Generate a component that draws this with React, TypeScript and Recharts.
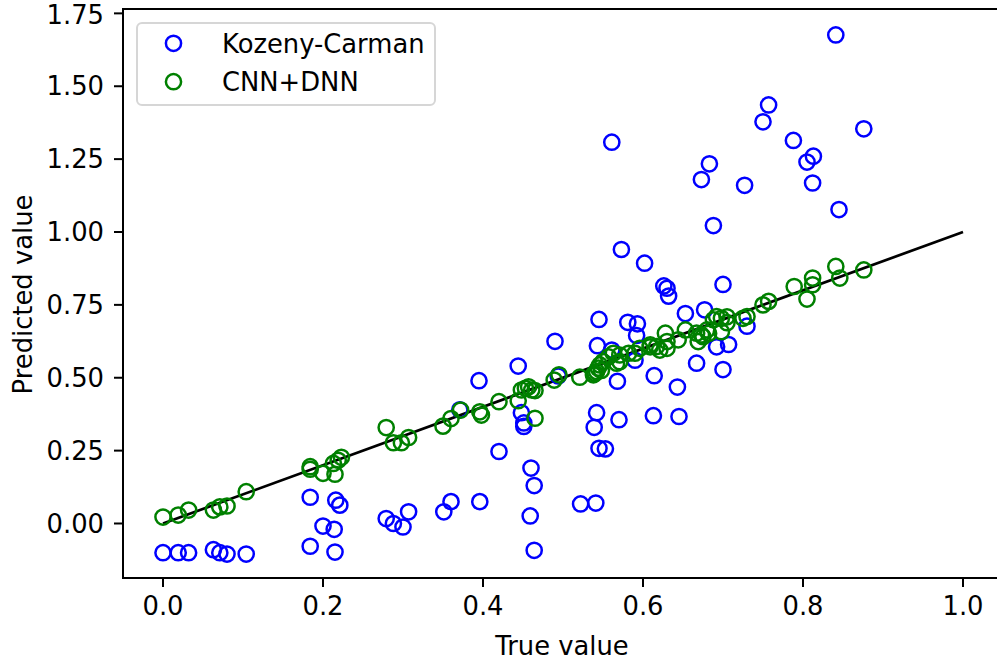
import { ScatterChart, Scatter, XAxis, YAxis, ReferenceLine, ReferenceArea, Legend } from 'recharts';

// Kozeny-Carman estimate vs. true value
const kcTrue = [
    0.000, 0.019, 0.032, 0.063, 0.071, 0.080, 0.104, 0.184, 0.184, 0.200,
    0.214, 0.215, 0.216, 0.221, 0.279, 0.288, 0.300, 0.307, 0.351, 0.360,
    0.371, 0.395, 0.396, 0.420, 0.444, 0.448, 0.451, 0.451, 0.459, 0.460,
    0.464, 0.464, 0.490, 0.494, 0.522, 0.539, 0.541, 0.542, 0.543, 0.545,
    0.545, 0.553, 0.561, 0.561, 0.568, 0.570, 0.573, 0.581, 0.590, 0.592,
    0.593, 0.602, 0.613, 0.614, 0.626, 0.630, 0.632, 0.643, 0.645, 0.653,
    0.667, 0.673, 0.677, 0.683, 0.688, 0.692, 0.700, 0.700, 0.707, 0.727,
    0.730, 0.750, 0.757, 0.788, 0.805, 0.812, 0.813, 0.841, 0.845, 0.876,
];
const kcPred = [
    -0.100, -0.100, -0.100, -0.090, -0.100, -0.105, -0.105, -0.078, 0.090, -0.009,
    -0.020, -0.098, 0.080, 0.063, 0.017, 0.000, -0.012, 0.040, 0.040, 0.075,
    0.390, 0.490, 0.075, 0.247, 0.540, 0.380, 0.345, 0.333, 0.026, 0.190,
    0.130, -0.092, 0.625, 0.506, 0.067, 0.330, 0.070, 0.380, 0.610, 0.700,
    0.258, 0.256, 1.308, 0.595, 0.488, 0.356, 0.940, 0.690, 0.560, 0.645,
    0.685, 0.893, 0.370, 0.507, 0.815, 0.807, 0.780, 0.468, 0.367, 0.720,
    0.550, 1.180, 0.733, 1.234, 1.022, 0.606, 0.820, 0.528, 0.614, 1.160,
    0.677, 1.378, 1.436, 1.314, 1.240, 1.168, 1.260, 1.676, 1.077, 1.354,
];

// CNN+DNN prediction vs. true value
const cnnTrue = [
    0.000, 0.019, 0.032, 0.063, 0.071, 0.080, 0.104, 0.184, 0.184, 0.200,
    0.213, 0.215, 0.219, 0.223, 0.279, 0.288, 0.298, 0.307, 0.350, 0.360,
    0.372, 0.396, 0.398, 0.420, 0.444, 0.448, 0.453, 0.457, 0.461, 0.465,
    0.465, 0.489, 0.495, 0.521, 0.538, 0.540, 0.542, 0.544, 0.546, 0.548,
    0.550, 0.557, 0.563, 0.567, 0.571, 0.571, 0.582, 0.590, 0.596, 0.609,
    0.609, 0.617, 0.621, 0.628, 0.630, 0.630, 0.644, 0.653, 0.667, 0.669,
    0.673, 0.675, 0.680, 0.682, 0.688, 0.692, 0.698, 0.698, 0.705, 0.705,
    0.725, 0.730, 0.750, 0.757, 0.789, 0.805, 0.812, 0.812, 0.841, 0.846,
    0.876,
];
const cnnPred = [
    0.022, 0.029, 0.046, 0.046, 0.057, 0.060, 0.109, 0.186, 0.195, 0.172,
    0.206, 0.169, 0.217, 0.227, 0.329, 0.277, 0.277, 0.295, 0.334, 0.360,
    0.389, 0.383, 0.372, 0.418, 0.421, 0.458, 0.464, 0.469, 0.458, 0.456,
    0.361, 0.492, 0.510, 0.502, 0.510, 0.515, 0.521, 0.533, 0.544, 0.525,
    0.555, 0.572, 0.584, 0.550, 0.578, 0.555, 0.584, 0.584, 0.601, 0.613,
    0.606, 0.607, 0.595, 0.653, 0.601, 0.624, 0.630, 0.664, 0.653, 0.624,
    0.647, 0.641, 0.664, 0.652, 0.699, 0.710, 0.704, 0.658, 0.689, 0.709,
    0.704, 0.710, 0.750, 0.762, 0.813, 0.770, 0.819, 0.842, 0.882, 0.842,
    0.870,
];

const identityLine = [{ x: 0, y: 0 }, { x: 1, y: 1 }];

const xTicks = [0, 0.2, 0.4, 0.6, 0.8, 1.0];
const yTicks = [0, 0.25, 0.5, 0.75, 1.0, 1.25, 1.5, 1.75];
const xDomain = [-0.05, 1.05];
const yDomain = [-0.187, 1.765];

const SERIES = [
    { name: 'Kozeny-Carman', color: '#0000ff' },
    { name: 'CNN+DNN', color: '#008000' },
];

const FONT = 'DejaVu Sans';
const FONT_SIZE = 25.8;
const MARKER_R = 7.6;
const MARKER_W = 2.5;
const AXIS_W = 2;

const kcData = kcTrue.map((x, i) => ({ x, y: kcPred[i] }));
const cnnData = cnnTrue.map((x, i) => ({ x, y: cnnPred[i] }));

function ring(color: string) {
    return (props: any) => (
        <circle cx={props.cx} cy={props.cy} r={MARKER_R} fill="none" stroke={color} strokeWidth={MARKER_W} />
    );
}

function LegendBox() {
    return (
        <div style={{
            width: 300, height: 84, boxSizing: 'border-box', border: '2px solid #d6d6d6',
            borderRadius: 6, background: 'rgba(255,255,255,0.8)',
        }}>
            <svg width={296} height={80} style={{ display: 'block' }}>
                {SERIES.map((s, i) => (
                    <g key={s.name}>
                        <circle cx={35.5} cy={19.3 + i * 38.4} r={MARKER_R} fill="none" stroke={s.color} strokeWidth={MARKER_W} />
                        <text x={84} y={19.3 + i * 38.4 + 9.4} fontFamily={FONT} fontSize={FONT_SIZE} fill="#000">{s.name}</text>
                    </g>
                ))}
            </svg>
        </div>
    );
}

function XLabel({ viewBox }: any) {
    const cx = viewBox.x + viewBox.width / 2 - 1;
    return (
        <text x={cx} y={viewBox.y + 77} textAnchor="middle" fontFamily={FONT} fontSize={FONT_SIZE} fill="#000">
            True value
        </text>
    );
}

function YLabel({ viewBox }: any) {
    const bx = 32;
    const cy = viewBox.y + viewBox.height / 2 + 1;
    return (
        <text x={bx} y={cy} transform={`rotate(-90, ${bx}, ${cy})`} textAnchor="middle"
            fontFamily={FONT} fontSize={FONT_SIZE} fill="#000">
            Predicted value
        </text>
    );
}

export default function App() {
    const tickStyle = { fill: '#000', fontSize: FONT_SIZE, fontFamily: FONT };
    return (
        <div style={{ position: 'fixed', left: 0, top: 0, width: 997, height: 661, overflow: 'hidden', background: '#fff' }}>
            <ScatterChart width={1010} height={661} margin={{ top: 9, right: 7, bottom: 0, left: 0 }}>
                <XAxis
                    type="number"
                    dataKey="x"
                    domain={xDomain}
                    ticks={xTicks}
                    allowDataOverflow
                    height={83}
                    tickSize={9}
                    tickMargin={10}
                    tick={tickStyle}
                    tickFormatter={(v: number) => v.toFixed(1)}
                    axisLine={{ stroke: '#000', strokeWidth: AXIS_W }}
                    tickLine={{ stroke: '#000', strokeWidth: AXIS_W }}
                    label={<XLabel />}
                />
                <YAxis
                    type="number"
                    dataKey="y"
                    domain={yDomain}
                    ticks={yTicks}
                    allowDataOverflow
                    width={123}
                    tickSize={9}
                    tickMargin={10}
                    tick={tickStyle}
                    tickFormatter={(v: number) => v.toFixed(2)}
                    axisLine={{ stroke: '#000', strokeWidth: AXIS_W }}
                    tickLine={{ stroke: '#000', strokeWidth: AXIS_W }}
                    label={<YLabel />}
                />
                <ReferenceArea x1={xDomain[0]} x2={xDomain[1]} y1={yDomain[0]} y2={yDomain[1]}
                    fill="none" stroke="#000" strokeWidth={AXIS_W} ifOverflow="visible" />
                <Scatter name={SERIES[0].name} data={kcData} shape={ring(SERIES[0].color)} isAnimationActive={false} />
                <Scatter name={SERIES[1].name} data={cnnData} shape={ring(SERIES[1].color)} isAnimationActive={false} />
                <ReferenceLine segment={identityLine} stroke="#000" strokeWidth={2.7} ifOverflow="visible" />
                <Legend
                    layout="vertical"
                    align="center"
                    verticalAlign="middle"
                    wrapperStyle={{ left: 136, top: 22, width: 300 }}
                    content={<LegendBox />}
                />
            </ScatterChart>
        </div>
    );
}
